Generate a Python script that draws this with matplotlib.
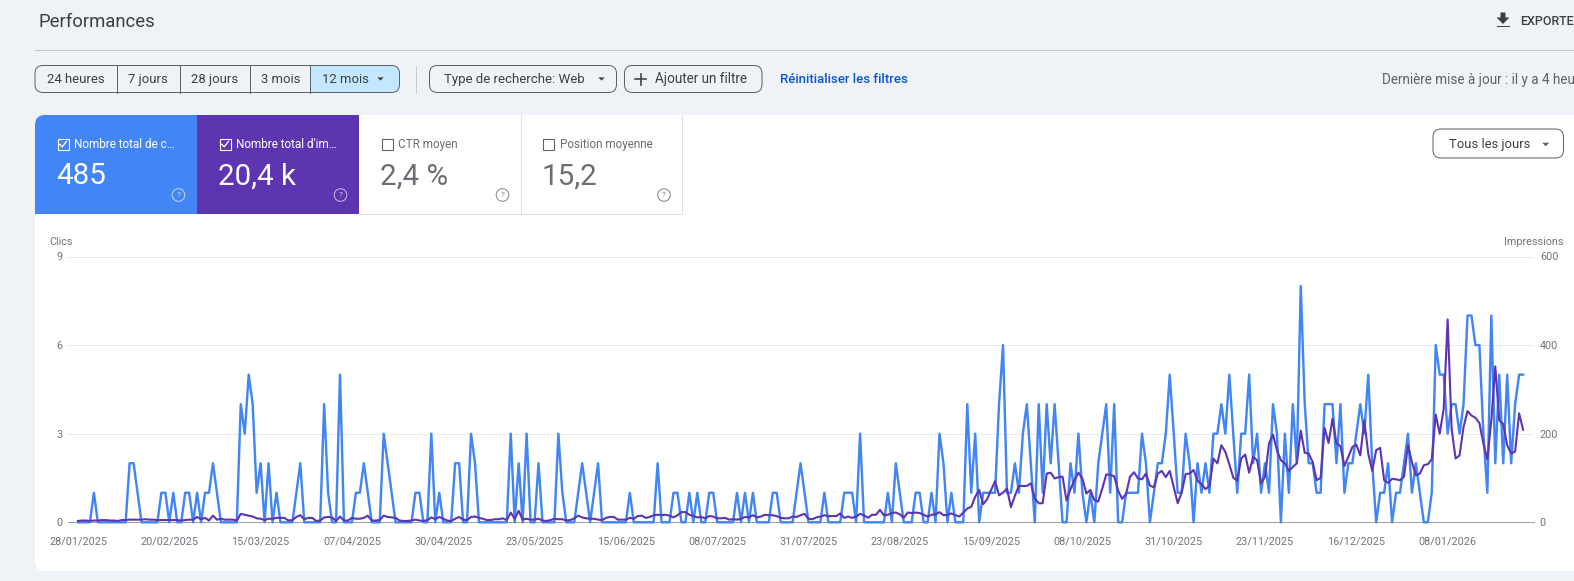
import matplotlib
matplotlib.use("Agg")
import matplotlib.pyplot as plt
import numpy as np
from matplotlib.patches import FancyBboxPatch, Rectangle, Polygon, Circle

plt.rcParams['font.family'] = ['Roboto', 'DejaVu Sans']

clicks = [
 0,0,0,0,1,0,0,0,0,0, 0,0,0,2,2,1,0,0,0,0, 0,1,1,0,1,0,0,1,1,0, 1,0,1,1,2,1,0,0,0,0,
 0,4,3,5,4,1,2,0,2,0, 1,0,0,0,0,1,2,0,0,0, 0,0,4,1,0,0,5,0,0,0, 1,1,2,1,0,0,0,3,2,1,
 0,0,0,0,0,1,1,0,0,3, 0,1,0,0,0,2,2,0,0,3, 2,0,0,0,0,0,0,0,0,3, 0,2,0,3,0,0,2,0,0,0,
 0,3,1,0,0,0,1,2,1,0, 1,2,0,0,0,0,0,0,0,1, 0,0,0,0,0,0,2,0,0,0, 1,1,0,0,1,0,1,0,0,1,
 1,0,0,0,0,0,1,0,1,0, 1,0,0,0,0,1,1,0,0,0, 0,1,2,1,0,0,0,0,1,0, 0,0,0,1,1,1,0,3,0,0,
 0,0,0,0,1,0,2,1,0,0, 0,1,1,0,0,1,0,3,2,0, 1,0,0,0,4,1,3,0,1,1, 1,1,4,6,1,1,2,1,3,4,
 2,0,4,1,4,2,4,2,0,0, 2,1,3,1,0,1,0,2,3,4, 1,4,0,0,1,1,1,1,3,2, 0,1,2,2,3,5,3,1,1,3,
 2,0,2,1,2,1,3,3,4,3, 5,3,1,3,3,5,2,3,1,2, 1,4,3,0,3,1,4,2,8,4, 2,2,1,1,4,4,4,2,4,1,
 2,2,3,4,3,5,2,0,1,1, 2,0,1,1,2,3,1,2,1,0, 0,1,6,5,5,3,4,4,3,4, 7,7,6,6,3,1,7,2,5,2,
 5,2,4,5,5]

impressions = [
 3,4,4,3,4,4,5,5,4,4, 3,5,5,6,6,6,6,7,6,6, 5,5,5,5,5,5,4,5,6,6, 12,7,10,4,15,6,8,6,6,6,
 4,19,17,15,13,9,8,5,8,8, 10,10,10,4,5,12,16,7,10,10, 3,4,11,12,11,3,13,4,4,10, 8,8,10,15,4,4,5,15,12,11,
 10,4,3,3,4,6,4,3,5,11, 7,12,8,4,3,8,12,6,5,12, 13,10,8,5,5,7,7,9,5,22, 8,26,6,8,6,6,8,4,3,5,
 8,7,7,4,5,9,15,11,9,8, 8,6,5,10,12,12,6,6,6,10, 8,14,15,10,12,16,17,16,17,15, 11,16,23,23,17,14,11,12,9,14,
 13,9,9,10,6,7,6,8,12,11, 16,11,13,17,16,16,14,10,9,9, 13,12,16,19,8,7,11,13,16,14, 14,14,20,10,13,10,13,19,16,10,
 17,17,28,16,17,21,22,18,10,22, 21,22,21,17,13,17,18,23,16,17, 20,16,13,22,31,35,58,73,41,52, 73,93,61,67,76,34,60,82,82,82,
 88,54,43,43,110,112,99,102,103,49, 75,95,112,99,65,73,50,47,76,108, 107,104,71,53,64,103,113,99,97,110, 83,79,110,116,102,116,80,43,67,109,
 110,118,94,86,75,82,144,133,174,159, 131,101,94,144,153,112,148,140,88,103, 178,198,163,140,133,116,125,133,207,157, 155,136,95,100,213,179,234,178,172,127,
 148,170,175,151,230,155,116,163,168,95, 89,98,97,95,103,174,136,106,110,129, 131,142,243,200,256,458,211,144,151,215, 251,241,236,224,178,142,230,352,230,222,
 174,155,160,246,209]

date_labels = ["28/01/2025","20/02/2025","15/03/2025","07/04/2025","30/04/2025","23/05/2025",
               "15/06/2025","08/07/2025","31/07/2025","23/08/2025","15/09/2025","08/10/2025",
               "31/10/2025","23/11/2025","16/12/2025","08/01/2026"]
date_positions = [i * 23 for i in range(len(date_labels))]
clicks_ticks = [0, 3, 6, 9]
impressions_ticks = [0, 200, 400, 600]
range_buttons = ["24 heures", "7 jours", "28 jours", "3 mois", "12 mois"]
card_titles = ["Nombre total de c…", "Nombre total d'im…", "CTR moyen", "Position moyenne"]
card_values = ["485", "20,4 k", "2,4 %", "15,2"]

W, H = 1574, 581
BG = "#eff3f8"; BLUE = "#4285f4"; PURPLE = "#5e35b1"; TXT = "#3c4043"; GREY = "#5f6368"; TICK = "#70757a"
px = 0.72

fig = plt.figure(figsize=(W / 100, H / 100), dpi=100, facecolor=BG)
ui = fig.add_axes([0, 0, 1, 1], zorder=0)
ui.set_xlim(0, W); ui.set_ylim(H, 0); ui.axis("off")

def rbox(x0, y0, x1, y1, r=8, fc="none", ec="none", lw=1.0, z=1):
    p = FancyBboxPatch((x0, y0), x1 - x0, y1 - y0, boxstyle=f"round,pad=0,rounding_size={r}",
                       fc=fc, ec=ec, lw=lw * px, zorder=z)
    ui.add_patch(p)
    return p

def arrow(cx, cy, s=4, color=TXT):
    ui.add_patch(Polygon([(cx - s, cy - s / 2), (cx + s, cy - s / 2), (cx, cy + s / 2)], fc=color, ec="none", zorder=4))

def t(x, y, s, size=13, color=TXT, ha="left", weight="normal", z=5):
    ui.text(x, y, s, fontsize=size * px, color=color, ha=ha, va="center", fontweight=weight, zorder=z)

# header
t(39, 22, "Performances", 18.5)
ui.plot([35, W], [49.7, 49.7], color="#c4c7c9", lw=1 * px)
ui.add_patch(Polygon([(1500.5, 12.5), (1505.5, 12.5), (1505.5, 17.5), (1509.5, 17.5), (1503, 24), (1496.5, 17.5), (1500.5, 17.5)],
                     fc=TXT, ec="none", zorder=4))
ui.add_patch(Rectangle((1496.5, 25.5), 13, 1.6, fc=TXT, ec="none", zorder=4))
t(1520, 21.5, "EXPORTER", 12.5, weight="medium")

# range buttons
group = rbox(35, 65.5, 399.5, 92.5, r=8, ec=GREY, lw=1, z=3)
hl = Rectangle((310.3, 65.5), 89.2, 27, fc="#c2e7ff", ec="none", zorder=2)
ui.add_patch(hl); hl.set_clip_path(group)
dividers = [35, 117.4, 179.5, 249.6, 310.3, 399.5]
for d in dividers[1:-1]:
    ui.plot([d, d], [65.5, 92.5], color=GREY, lw=1 * px, zorder=3)
btn_x = [47, 128.5, 191, 261, 321.5]
for x, s in zip(btn_x, range_buttons):
    t(x, 79.5, s, 13.1)
arrow(380.5, 79, 3.2)
ui.plot([415.6, 415.6], [65.5, 92.5], color="#c9cccf", lw=1 * px)
rbox(429.5, 65.5, 616.5, 92.5, r=8, ec=GREY, lw=1, z=3)
t(444, 79.5, "Type de recherche: Web", 13.3)
arrow(601.5, 79, 3.2)
rbox(624.5, 65.5, 762, 92.5, r=8, ec=GREY, lw=1, z=3)
ui.plot([635, 646], [79, 79], color=TXT, lw=1.6 * px, zorder=4)
ui.plot([640.5, 640.5], [73.5, 84.5], color=TXT, lw=1.6 * px, zorder=4)
t(655, 79.5, "Ajouter un filtre", 13.5)
t(780, 79.5, "Réinitialiser les filtres", 13.2, color="#0b57d0", weight="medium")
t(1382, 80, "Dernière mise à jour : il y a 4 heures", 13.5, color=GREY)

# white card
rbox(35, 115, W + 30, 571, r=10, fc="white", z=1)
cards = [(35, 197, BLUE, "white"), (197, 359, PURPLE, "white"), (359, 520.5, "white", "#6b6e72"), (520.5, 682, "white", "#6b6e72")]
ui.add_patch(FancyBboxPatch((35, 115), 60, 99, boxstyle="round,pad=0,rounding_size=10", fc=BLUE, ec="none", zorder=2))
ui.add_patch(Rectangle((45, 115), 152, 99, fc=BLUE, ec="none", zorder=2))
ui.add_patch(Rectangle((35, 125), 162, 89, fc=BLUE, ec="none", zorder=2))
ui.add_patch(Rectangle((197, 115), 162, 99, fc=PURPLE, ec="none", zorder=2))
ui.plot([359, 682, 682], [213.6, 213.6, 115], color="#dfe1e5", lw=1 * px, zorder=2)
ui.plot([520.5, 520.5], [115, 213.6], color="#dfe1e5", lw=1 * px, zorder=2)
for (x0, x1, fc, tc), title, val in zip(cards, card_titles, card_values):
    tx = x0 + 22.5
    boxc = "white" if tc == "white" else GREY
    ui.add_patch(Rectangle((tx, 138.5), 11.2, 11.2, fc="none", ec=boxc, lw=1.1 * px, zorder=4))
    if tc == "white":
        ui.plot([tx + 2.2, tx + 4.7, tx + 9], [144.3, 146.9, 141.3], color="white", lw=1.3 * px, zorder=4)
    t(x0 + 39, 144.5, title, 11.7, color=tc)
    t(tx - 1, 176.5, val, 29.5, color=tc)
    hc = "#ffffff" if tc == "white" else "#80868b"
    ax_, ay_ = x0 + 143.5, 195
    ui.add_patch(Circle((ax_, ay_), 6.3, fc="none", ec=hc, lw=1 * px, alpha=0.65 if tc == "white" else 1, zorder=4))
    ui.text(ax_, ay_ + 0.3, "?", fontsize=8.5 * px, color=hc, alpha=0.75 if tc == "white" else 1, ha="center", va="center", zorder=5)

rbox(1433, 129, 1563.5, 158, r=8, fc="white", ec=GREY, lw=1, z=3)
t(1448.7, 144.5, "Tous les jours", 13)
arrow(1545.7, 144.5, 3.6, color=GREY)

t(49.6, 242, "Clics", 10.8, color=TICK)
t(1563.7, 242, "Impressions", 10.8, color=TICK, ha="right")

# chart axes
L, R, T, B = 68, 1534, 256.5, 522.3
ax = fig.add_axes([L / W, 1 - B / H, (R - L) / W, (B - T) / H], zorder=2)
ax.patch.set_alpha(0)
step = 3.97
x = np.arange(len(clicks))
ax.set_xlim((L - 78) / step, (R - 78) / step)
ax.set_ylim(0, 9)
ax2 = ax.twinx()
ax2.set_ylim(0, 600)
ax2.patch.set_alpha(0)
ax.set_yticks(clicks_ticks)
ax2.set_yticks(impressions_ticks)
ax.set_xticks(date_positions)
ax.set_xticklabels(date_labels)
ax.grid(axis="y", color="#e8eaed", lw=1 * px, zorder=0)
ax.set_axisbelow(True)
ax.tick_params(axis="x", length=0, pad=10.3, labelsize=10.9 * px, labelcolor=TICK)
ax.tick_params(axis="y", length=0, pad=4, labelsize=10.9 * px, labelcolor=TICK)
ax2.tick_params(axis="y", length=0, pad=4.2, labelsize=10.9 * px, labelcolor=TICK)
for a in (ax, ax2):
    for sp in a.spines.values():
        sp.set_visible(False)
ax.spines["bottom"].set_visible(True)
ax.spines["bottom"].set_color("#9aa0a6")
ax.spines["bottom"].set_linewidth(1 * px)
ax.plot(x, clicks, color=BLUE, lw=2.4 * px, clip_on=False, zorder=3)
ax2.plot(x, impressions, color=PURPLE, lw=2.1 * px, clip_on=False, zorder=4)

fig.savefig("out.png", dpi=100, facecolor=BG)
